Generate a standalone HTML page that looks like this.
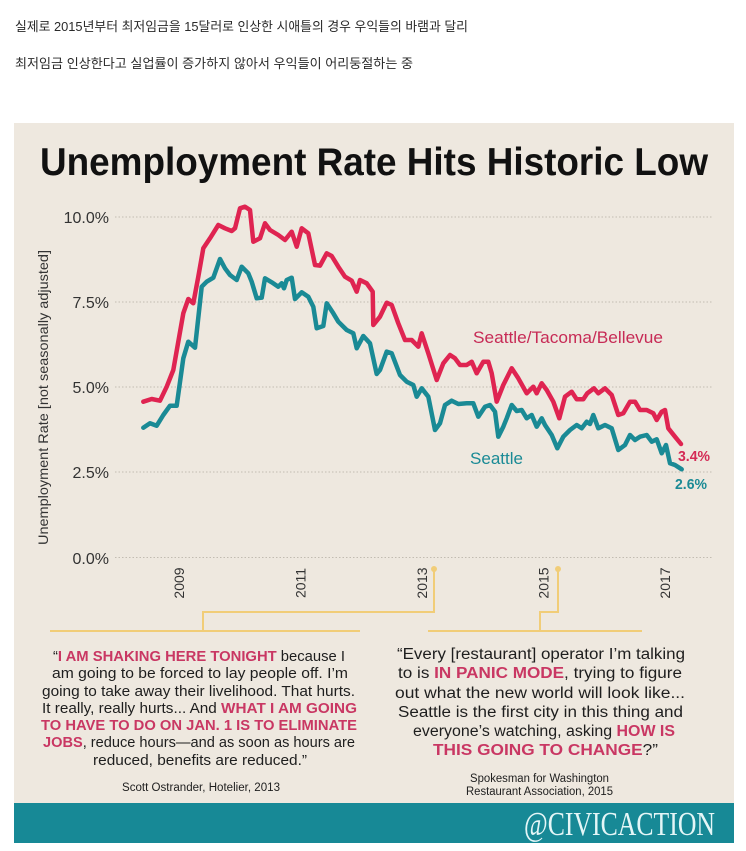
<!DOCTYPE html>
<html>
<head>
<meta charset="utf-8">
<style>
  html,body{margin:0;padding:0;background:#ffffff;}
  body{width:746px;height:851px;overflow:hidden;}
  svg{display:block;}
  .ko{font-family:"Liberation Sans","Noto Sans CJK KR","NanumGothic",sans-serif;}
  .s{font-family:"Liberation Sans","DejaVu Sans",sans-serif;}
</style>
</head>
<body>
<svg width="746" height="851" viewBox="0 0 746 851" xmlns="http://www.w3.org/2000/svg">

  <!-- Korean header text -->
  <text class="ko" x="15" y="31" font-size="13" fill="#2a2a2a" textLength="453" lengthAdjust="spacingAndGlyphs">실제로 2015년부터 최저임금을 15달러로 인상한 시애틀의 경우 우익들의 바램과 달리</text>
  <text class="ko" x="15" y="68" font-size="13" fill="#2a2a2a" textLength="398" lengthAdjust="spacingAndGlyphs">최저임금 인상한다고 실업률이 증가하지 않아서 우익들이 어리둥절하는 중</text>

  <!-- Panel background -->
  <rect x="14" y="123" width="720" height="720" fill="#eee8df"/>

  <!-- Title -->
  <text class="s" x="40" y="175" font-size="39" font-weight="bold" fill="#111" textLength="668" lengthAdjust="spacingAndGlyphs">Unemployment Rate Hits Historic Low</text>

  <!-- Gridlines -->
  <g stroke="#c2bcb2" stroke-width="1" stroke-dasharray="1.5,2">
    <line x1="115" y1="217" x2="712" y2="217"/>
    <line x1="115" y1="302" x2="712" y2="302"/>
    <line x1="115" y1="387" x2="712" y2="387"/>
    <line x1="115" y1="472" x2="712" y2="472"/>
    <line x1="115" y1="557.5" x2="712" y2="557.5"/>
  </g>

  <!-- Y tick labels -->
  <g class="s" font-size="16" fill="#333" text-anchor="end">
    <text x="109" y="223">10.0%</text>
    <text x="109" y="308">7.5%</text>
    <text x="109" y="393">5.0%</text>
    <text x="109" y="478">2.5%</text>
    <text x="109" y="564">0.0%</text>
  </g>

  <!-- Y axis title -->
  <text class="s" font-size="14" fill="#333" text-anchor="middle" transform="translate(48,397.5) rotate(-90)" textLength="295" lengthAdjust="spacingAndGlyphs">Unemployment Rate [not seasonally adjusted]</text>

  <!-- X labels -->
  <g class="s" font-size="14" fill="#333" text-anchor="middle">
    <text transform="translate(184,583) rotate(-90)">2009</text>
    <text transform="translate(305.5,583) rotate(-90)">2011</text>
    <text transform="translate(427,583) rotate(-90)">2013</text>
    <text transform="translate(548.5,583) rotate(-90)">2015</text>
    <text transform="translate(670,583) rotate(-90)">2017</text>
  </g>

  <!-- Yellow connectors -->
  <g fill="none" stroke="#f1cd78" stroke-width="2">
    <polyline points="203,631 203,612 434,612 434,569"/>
    <polyline points="540,631 540,612 558,612 558,569"/>
    <line x1="50" y1="631" x2="360" y2="631"/>
    <line x1="428" y1="631" x2="642" y2="631"/>
  </g>
  <circle cx="434" cy="569" r="3" fill="#f1cd78"/>
  <circle cx="558" cy="569" r="3" fill="#f1cd78"/>

  <!-- Red series -->
  <polyline fill="none" stroke="#df2451" stroke-width="4.5" stroke-linejoin="round" stroke-linecap="round"
    points="143.3,401.7 151.7,399 160,400.7 166.7,386.7 173.3,370 178.3,341.7 183.3,313.3 188.3,299 193.3,303.3 198.3,276.7 203.3,248.3 210,238.3 218.3,225 225,228.3 231.7,231 235,228.3 240,208.3 245,206.7 250,210 253.3,241.7 260,238.3 265,223.3 270,230 278.3,235 285,240 291.7,231.7 296.7,246.7 301.7,228.3 308.3,233.3 315,265 320,265.7 326.7,253.3 331.7,256 338.3,266.7 345,276.7 351.7,280.7 356.7,291.7 360,280 366.7,283.3 372.7,291.7 373.3,325 380,316.7 386.7,302.7 391.7,305 398.3,323.3 405,340 411.7,340 418.3,346.7 421.7,333.3 428.3,353.3 436.7,380 443.3,363.3 450,355 455,358.3 460,365 466.7,365 471.7,361.7 476.7,373.3 483.3,361.7 488.3,361.7 491.7,373.3 496.7,401.7 503.3,385 511.7,368.3 518.3,378.3 526.7,393.3 533.3,386.7 536.7,393.3 541.7,383.3 546.7,390 553.3,401.7 559.3,418.3 565,396.7 571.7,391.7 576.7,399.3 583.3,399.3 587.3,393.3 594,388.3 598.3,393.3 605,388.3 611.7,395 618.3,415 623.3,413.3 630,401.7 635,401.7 640,410 646.7,410 653.3,413.3 656.7,420 661.7,411.7 665,410 668.3,428.3 675,436.7 681,444"/>

  <!-- Teal series -->
  <polyline fill="none" stroke="#1a8a95" stroke-width="4.5" stroke-linejoin="round" stroke-linecap="round"
    points="143.3,427.7 150,423.3 156.7,425.7 163.3,415 170,405.7 176.7,405.7 183.3,358.3 188.3,341.7 195,347.7 201.7,286.7 206.7,281.7 213.3,277.7 220,259 225,268.3 230,275 236.7,280 241.7,266.7 248.3,273.3 251.7,281.7 256.7,298.3 261.7,297.7 265,278.3 271.7,282.3 278.3,286.7 281.7,283.3 284,288.3 286.7,280 291.7,277.7 295,299 301.7,292.3 308.3,296.7 313.3,306.7 316.7,328.3 323.3,326 326.7,303.3 333.3,313.3 338.3,321.7 346.7,330 353.3,333.3 356.7,348.3 363.3,336 370,343.3 376.7,374 380,370 386.7,351.7 391.7,353.3 400,375 406.7,381.7 413.3,385 416.7,396.7 421.7,388.3 428.3,396.7 435,430 440,423.3 445,405 451.7,400.7 458.3,404 466.7,403.3 473.3,403.3 478.3,416.7 485,406.7 490,405 495,411.7 498.3,436.7 503.3,426.7 506.7,418.3 511.7,405 516.7,411 521.7,410 526.7,418.3 531.7,415 536.7,426.7 541.7,418.3 545,425 551.7,435 557.3,448.3 563.3,436.7 570,430 576.7,425 581.7,428.3 586.7,421.7 590,424 593.3,415 598.3,428.3 605,425 611.7,428.3 618.3,450 625,445 630,435 635,440 640,436.7 646.7,435 651.7,441.7 656.7,439.3 661.7,453.3 666,445 670,463.3 675,465 681.7,469.3"/>

  <!-- Series labels -->
  <text class="s" x="473" y="343" font-size="17" fill="#c72b56" textLength="190" lengthAdjust="spacingAndGlyphs">Seattle/Tacoma/Bellevue</text>
  <text class="s" x="470" y="464" font-size="17" fill="#1a8a95" textLength="53" lengthAdjust="spacingAndGlyphs">Seattle</text>
  <text class="s" x="678" y="461" font-size="15" font-weight="bold" fill="#d42a55" textLength="32" lengthAdjust="spacingAndGlyphs">3.4%</text>
  <text class="s" x="675" y="489" font-size="15" font-weight="bold" fill="#1a8a95" textLength="32" lengthAdjust="spacingAndGlyphs">2.6%</text>

  <!-- Quote 1 -->
  <g class="s" font-size="14.5" fill="#1e1e1e">
    <text x="53" y="661" textLength="292" lengthAdjust="spacingAndGlyphs">“<tspan fill="#c93763" font-weight="bold">I AM SHAKING HERE TONIGHT</tspan> because I</text>
    <text x="52" y="678" textLength="296" lengthAdjust="spacingAndGlyphs">am going to be forced to lay people off. I’m</text>
    <text x="42" y="696" textLength="313" lengthAdjust="spacingAndGlyphs">going to take away their livelihood. That hurts.</text>
    <text x="42" y="713" textLength="315" lengthAdjust="spacingAndGlyphs">It really, really hurts... And <tspan fill="#c93763" font-weight="bold">WHAT I AM GOING</tspan></text>
    <text x="41" y="730" textLength="316" lengthAdjust="spacingAndGlyphs" fill="#c93763" font-weight="bold">TO HAVE TO DO ON JAN. 1 IS TO ELIMINATE</text>
    <text x="43" y="747" textLength="312" lengthAdjust="spacingAndGlyphs"><tspan fill="#c93763" font-weight="bold">JOBS</tspan>, reduce hours—and as soon as hours are</text>
    <text x="93" y="765" textLength="214" lengthAdjust="spacingAndGlyphs">reduced, benefits are reduced.”</text>
  </g>
  <text class="s" x="122" y="791" font-size="11.5" fill="#1e1e1e" textLength="158" lengthAdjust="spacingAndGlyphs">Scott Ostrander, Hotelier, 2013</text>

  <!-- Quote 2 -->
  <g class="s" font-size="15.5" fill="#1e1e1e">
    <text x="397" y="659" textLength="288" lengthAdjust="spacingAndGlyphs">“Every [restaurant] operator I’m talking</text>
    <text x="398" y="678" textLength="284" lengthAdjust="spacingAndGlyphs">to is <tspan fill="#c93763" font-weight="bold">IN PANIC MODE</tspan>, trying to figure</text>
    <text x="395" y="698" textLength="290" lengthAdjust="spacingAndGlyphs">out what the new world will look like...</text>
    <text x="398" y="717" textLength="285" lengthAdjust="spacingAndGlyphs">Seattle is the first city in this thing and</text>
    <text x="413" y="736" textLength="262" lengthAdjust="spacingAndGlyphs">everyone’s watching, asking <tspan fill="#c93763" font-weight="bold">HOW IS</tspan></text>
    <text x="433" y="755" textLength="225" lengthAdjust="spacingAndGlyphs"><tspan fill="#c93763" font-weight="bold">THIS GOING TO CHANGE</tspan>?”</text>
  </g>
  <text class="s" x="470" y="782" font-size="11.5" fill="#1e1e1e" textLength="139" lengthAdjust="spacingAndGlyphs">Spokesman for Washington</text>
  <text class="s" x="466" y="795" font-size="11.5" fill="#1e1e1e" textLength="147" lengthAdjust="spacingAndGlyphs">Restaurant Association, 2015</text>

  <!-- Footer -->
  <rect x="14" y="803" width="720" height="40" fill="#178996"/>
  <text x="524" y="835" font-family="'Liberation Serif','DejaVu Serif',serif" font-size="34" fill="#e4f6f7" textLength="191" lengthAdjust="spacingAndGlyphs">@CIVICACTION</text>
</svg>
</body>
</html>
